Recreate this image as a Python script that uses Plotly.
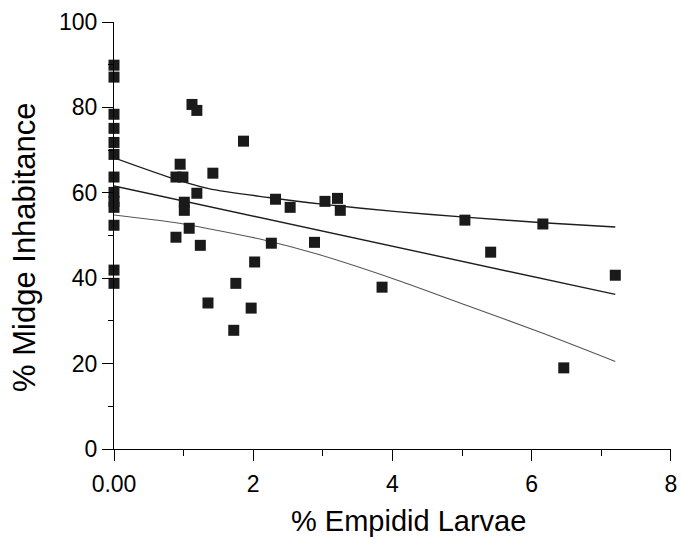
import plotly.graph_objects as go

# Scatter data
empidid = [0, 0, 0, 0, 0, 0, 0, 0, 0, 0, 0, 0, 0,
           1.12, 1.19, 1.86, 0.95, 0.89, 0.99, 1.42, 1.19, 1.01, 1.01,
           1.08, 0.89, 1.24, 2.32, 2.53, 2.26, 2.88, 2.02, 1.75, 1.35,
           1.97, 1.72, 3.85, 3.03, 3.21, 3.25, 5.04, 6.16, 5.41, 7.20, 6.46]
midge = [89.9, 87.1, 78.4, 75.1, 71.8, 69.0, 63.7, 60.1, 58.0, 56.6, 52.4, 41.9, 38.8,
         80.7, 79.3, 72.1, 66.7, 63.7, 63.7, 64.6, 59.9, 57.8, 55.9,
         51.7, 49.6, 47.7, 58.5, 56.6, 48.2, 48.4, 43.8, 38.8, 34.2,
         33.0, 27.8, 37.9, 58.0, 58.7, 55.9, 53.6, 52.7, 46.1, 40.7, 19.0]

# Regression line and confidence band
fit_x = [0, 7.2]
fit_y = [61.6, 36.2]
upper_x = [0, 0.84, 1.36, 2.22, 3.02, 4.06, 5.04, 6.16, 7.2]
upper_y = [68.2, 63.4, 61.0, 58.9, 57.3, 55.6, 54.3, 53.0, 52.0]
lower_x = [0, 0.84, 1.36, 2.17, 2.93, 4.06, 5.04, 6.16, 7.2]
lower_y = [54.8, 53.1, 51.6, 48.9, 45.6, 39.6, 33.8, 27.1, 20.5]

x_tickvals = [0, 2, 4, 6, 8]
x_ticktext = ["0.00", "2", "4", "6", "8"]
x_minor = [1, 3, 5, 7]
y_tickvals = [0, 20, 40, 60, 80, 100]
y_minor = [10, 30, 50, 70, 90]

FONT = "Liberation Sans, Arial, sans-serif"

fig = go.Figure()
fig.add_trace(go.Scatter(x=upper_x, y=upper_y, mode="lines",
                         line=dict(color="#1e1e1e", width=1.4, shape="spline", smoothing=0.8),
                         hoverinfo="skip"))
fig.add_trace(go.Scatter(x=fit_x, y=fit_y, mode="lines",
                         line=dict(color="#1e1e1e", width=1.4),
                         hoverinfo="skip"))
fig.add_trace(go.Scatter(x=lower_x, y=lower_y, mode="lines",
                         line=dict(color="#555555", width=1.1, shape="spline", smoothing=0.8),
                         hoverinfo="skip"))
fig.add_trace(go.Scatter(x=empidid, y=midge, mode="markers",
                         marker=dict(symbol="square", size=11, color="#1a1a1a",
                                     line=dict(width=0)),
                         cliponaxis=False))

fig.update_layout(
    width=682, height=540,
    margin=dict(l=114, r=5, t=22, b=91),
    paper_bgcolor="white", plot_bgcolor="white",
    showlegend=False,
    font=dict(family=FONT, size=23, color="black"),
    xaxis=dict(range=[0, 8.0001], showgrid=False, zeroline=False,
               showline=True, linecolor="black", linewidth=1.3,
               ticks="outside", ticklen=11, tickwidth=1.3, tickcolor="black",
               tickvals=x_tickvals, ticktext=x_ticktext,
               ticklabeloverflow="allow", ticklabelstandoff=3,
               minor=dict(tickvals=x_minor, ticks="outside", ticklen=6,
                          tickcolor="black", tickwidth=1.2),
               tickfont=dict(family=FONT, size=23, color="black")),
    yaxis=dict(range=[0, 100.01], showgrid=False, zeroline=False,
               showline=True, linecolor="black", linewidth=1.3,
               ticks="outside", ticklen=11, tickwidth=1.3, tickcolor="black",
               tickvals=y_tickvals, ticklabeloverflow="allow",
               minor=dict(tickvals=y_minor, ticks="outside", ticklen=5,
                          tickcolor="black", tickwidth=1.2),
               tickfont=dict(family=FONT, size=23, color="black")),
    annotations=[
        dict(text="% Empidid Larvae", xref="paper", yref="paper",
             x=(411.5 - 114) / 563, y=(449 - 521) / 427,
             xanchor="center", yanchor="middle", showarrow=False,
             font=dict(family=FONT, size=29, color="black")),
        dict(text="% Midge Inhabitance", xref="paper", yref="paper",
             x=(24 - 114) / 563, y=(449 - 247) / 427, textangle=-90,
             xanchor="center", yanchor="middle", showarrow=False,
             font=dict(family=FONT, size=31, color="black")),
    ],
)

fig.write_html("out.html")
